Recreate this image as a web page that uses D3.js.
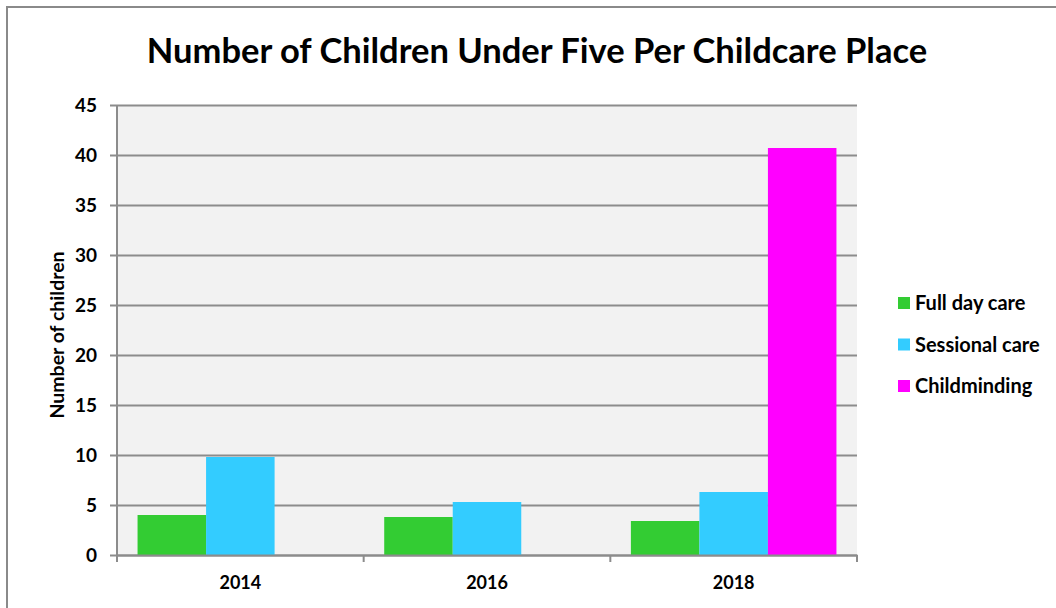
<!DOCTYPE html>
<html>
<head>
<meta charset="utf-8">
<script src="https://cdn.jsdelivr.net/npm/d3@7"></script>
<style>
  html, body { margin: 0; padding: 0; background: #ffffff; }
  svg { display: block; }
  text { font-family: Lato, "Open Sans", sans-serif; font-weight: 700; fill: #000; }
</style>
</head>
<body>
<svg id="chart" width="1056" height="608"></svg>
<script>
// Children under five per childcare place, by year and type of care
const years = ["2014", "2016", "2018"];
const seriesNames = ["Full day care", "Sessional care", "Childminding"];
const fullDayCare = [4.0, 3.8, 3.4];
const sessionalCare = [9.8, 5.3, 6.3];
const childminding = [null, null, 40.7];
const seriesColors = ["#33cc33", "#33ccff", "#ff00ff"];
const yTicks = [0, 5, 10, 15, 20, 25, 30, 35, 40, 45];

const seriesValues = [fullDayCare, sessionalCare, childminding];

const svg = d3.select("#chart");
const plot = { left: 117, right: 857, top: 105, bottom: 555 };
const gridColor = "#8c8c8c";

// chart frame
svg.append("rect")
  .attr("x", 7).attr("y", 7)
  .attr("width", 1100).attr("height", 700)
  .attr("fill", "none").attr("stroke", "#8a8a8a").attr("stroke-width", 2);

// title
svg.append("text")
  .attr("x", 537).attr("y", 63)
  .attr("text-anchor", "middle")
  .style("font-size", "34.5px")
  .text("Number of Children Under Five Per Childcare Place");

const y = d3.scaleLinear().domain([0, 45]).range([plot.bottom, plot.top]);
const x0 = d3.scaleBand().domain(years).range([plot.left, plot.right]).padding(0);
const x1 = d3.scaleBand().domain(seriesNames).range([0, x0.bandwidth()])
  .paddingInner(0).paddingOuter(0.3);

// plot background
svg.append("rect")
  .attr("x", plot.left).attr("y", plot.top)
  .attr("width", plot.right - plot.left).attr("height", plot.bottom - plot.top)
  .attr("fill", "#f2f2f2");

// horizontal gridlines with tick stubs
const yAxis = d3.axisLeft(y).tickValues(yTicks)
  .tickSize(-(plot.right - plot.left)).tickPadding(20).tickFormat(d3.format("d"));
const gy = svg.append("g")
  .attr("transform", `translate(${plot.left},0)`)
  .call(yAxis);
gy.select(".domain").remove();
gy.selectAll(".tick line")
  .attr("x1", -7)
  .attr("stroke", gridColor).attr("stroke-width", 2);
gy.selectAll(".tick text").style("font-size", "19px").attr("dy", "0.35em");

// bars
const groups = svg.append("g").selectAll("g")
  .data(years)
  .join("g")
  .attr("transform", d => `translate(${x0(d)},0)`);

groups.selectAll("rect")
  .data((d, i) => seriesNames.map((s, k) => ({ series: s, k, value: seriesValues[k][i] }))
    .filter(e => e.value != null))
  .join("rect")
  .attr("x", d => x1(d.series))
  .attr("width", x1.bandwidth())
  .attr("y", d => y(d.value))
  .attr("height", d => y(0) - y(d.value))
  .attr("fill", d => seriesColors[d.k]);

// vertical axis line
svg.append("line")
  .attr("x1", plot.left).attr("x2", plot.left)
  .attr("y1", plot.top).attr("y2", plot.bottom + 7)
  .attr("stroke", gridColor).attr("stroke-width", 2);

// category axis
const xAxis = d3.axisBottom(x0).tickSize(0).tickPadding(21);
const gx = svg.append("g")
  .attr("transform", `translate(0,${plot.bottom})`)
  .call(xAxis);
gx.select(".domain").attr("stroke", gridColor).attr("stroke-width", 2);
gx.selectAll(".tick text").style("font-size", "18px");

// category boundary ticks
const boundaries = years.map(d => x0(d)).concat([x0(years[years.length - 1]) + x0.bandwidth()]);
svg.append("g").selectAll("line")
  .data(boundaries)
  .join("line")
  .attr("x1", d => d).attr("x2", d => d)
  .attr("y1", plot.bottom).attr("y2", plot.bottom + 7)
  .attr("stroke", gridColor).attr("stroke-width", 2);

// y-axis title
svg.append("text")
  .attr("transform", "translate(57,335) rotate(-90)")
  .attr("text-anchor", "middle")
  .attr("dy", "0.35em")
  .style("font-size", "19.5px")
  .text("Number of children");

// legend
const legend = svg.append("g").selectAll("g")
  .data(seriesNames)
  .join("g")
  .attr("transform", (d, i) => `translate(898,${303 + i * 41.5})`);
legend.append("rect")
  .attr("x", 0).attr("y", -6)
  .attr("width", 12).attr("height", 12)
  .attr("fill", (d, i) => seriesColors[i]);
legend.append("text")
  .attr("x", 17).attr("dy", "0.35em")
  .style("font-size", "20px")
  .text(d => d);
</script>
</body>
</html>
